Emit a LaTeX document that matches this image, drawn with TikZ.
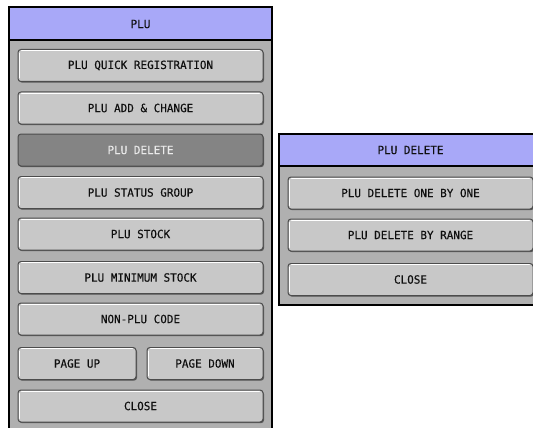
\documentclass[tikz,border=0pt]{standalone}
\usepackage{fontspec}
\newfontfamily\uifont[FakeBold=0.3, FakeStretch=0.97]{DejaVu Sans Mono}
\usetikzlibrary{shadows}
\definecolor{hdr}{RGB}{168,168,248}
\definecolor{pnl}{RGB}{176,176,176}
\definecolor{btngray}{RGB}{200,200,200}
\definecolor{btnsel}{RGB}{132,132,132}
\definecolor{txt}{RGB}{15,15,15}
\tikzset{
  panel/.style={draw=black, line width=1.2pt, fill=pnl},
  header/.style={draw=black, line width=1.2pt, fill=hdr},
  ttl/.style={font=\uifont\fontsize{11.3}{11.3}\selectfont, text=txt},
  btn/.style={draw=black!70, line width=1pt, fill=btngray, rounded corners=3pt,
    minimum height=32pt, inner sep=0pt, text=txt,
    font=\uifont\fontsize{11.3}{11.3}\selectfont,
    general shadow={shadow xshift=1pt, shadow yshift=-1.2pt, fill=black!65, rounded corners=3pt}},
  btnsel/.style={btn, fill=btnsel, text=white!92!black},
  hl/.style={draw=white, line width=0.8pt, line cap=round}
}
\newcommand{\hilite}[1]{%
  \draw[hl] ([xshift=1.6pt,yshift=-4pt]#1.north west) -- ([xshift=1.6pt,yshift=4pt]#1.south west);
  \draw[hl] ([xshift=4pt,yshift=-1.6pt]#1.north west) -- ([xshift=-4pt,yshift=-1.6pt]#1.north east);}
\begin{document}
\begin{tikzpicture}[x=1pt,y=-1pt]
\useasboundingbox (0,0) rectangle (533,428);
\clip (0,0) rectangle (533,428);
\fill[white] (0,0) rectangle (533,428);
% left panel
\draw[panel] (9,7) rectangle (272,440);
\draw[header] (9,7) rectangle (272,40);
\node[ttl] (t1) at (140.5,24) {PLU};
\node[btn, minimum width=245pt] (b1) at (140.5,65.5) {PLU QUICK REGISTRATION};
\node[btn, minimum width=245pt] (b2) at (140.5,108) {PLU ADD \& CHANGE};
\node[btnsel, minimum width=245pt] (b3) at (140.5,150) {PLU DELETE};
\node[btn, minimum width=245pt] (b4) at (140.5,192.5) {PLU STATUS GROUP};
\node[btn, minimum width=245pt] (b5) at (140.5,234) {PLU STOCK};
\node[btn, minimum width=245pt] (b6) at (140.5,277.5) {PLU MINIMUM STOCK};
\node[btn, minimum width=245pt] (b7) at (140.5,319) {NON-PLU CODE};
\node[btn, minimum width=118pt] (b8) at (77,363.5) {PAGE UP};
\node[btn, minimum width=116pt] (b9) at (205,363.5) {PAGE DOWN};
\node[btn, minimum width=245pt] (b10) at (140.5,406) {CLOSE};
\foreach \n in {b1,b2,b4,b5,b6,b7,b8,b9,b10} {\hilite{\n}}
% right panel
\draw[panel] (279,134) rectangle (542,305);
\draw[header] (279,134) rectangle (542,166);
\node[ttl] (t2) at (410.5,150) {PLU DELETE};
\node[btn, minimum width=245pt] (c1) at (410.5,193) {PLU DELETE ONE BY ONE};
\node[btn, minimum width=245pt] (c2) at (410.5,235) {PLU DELETE BY RANGE};
\node[btn, minimum width=245pt] (c3) at (410.5,279.5) {CLOSE};
\foreach \n in {c1,c2,c3} {\hilite{\n}}
\end{tikzpicture}
\end{document}
